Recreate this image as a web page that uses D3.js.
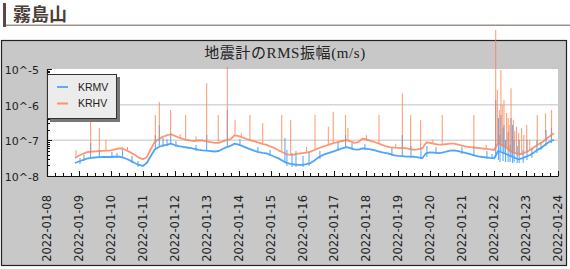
<!DOCTYPE html>
<html lang="ja">
<head>
  <meta charset="UTF-8" />
  <title>霧島山 地震計のRMS振幅</title>
  <script src="https://d3js.org/d3.v7.min.js"></script>
  <style>
    body { margin: 0; padding: 0; background: #fff; }
    svg { display: block; }
    .tick-label { font-family: "DejaVu Sans", sans-serif; fill: #222; }
  </style>
</head>
<body>
<div id="chart"></div>
<script>
  // ---- data ----
  const stationTitle = "霧島山";
  const chartTitle = "地震計のRMS振幅(m/s)";
  const seriesNames = ["KRMV", "KRHV"];
  const dayLabels = ["2022-01-08","2022-01-09","2022-01-10","2022-01-11","2022-01-12","2022-01-13",
    "2022-01-14","2022-01-15","2022-01-16","2022-01-17","2022-01-18","2022-01-19","2022-01-20",
    "2022-01-21","2022-01-22","2022-01-23","2022-01-24"];
  const yTickLabels = ["10^-8", "10^-7", "10^-6", "10^-5"];
  const yTickValues = [1e-8, 1e-7, 1e-6, 1e-5];

  // base level, one value every 3 hours from 2022-01-08 21:00
  const baseStartHour = 21, baseStepHours = 3;
  const krmvBase = [
    2.31e-8, 2.55e-8, 2.81e-8, 3.08e-8, 3.22e-8, 3.30e-8, 3.39e-8, 3.41e-8, 3.41e-8, 3.41e-8,
    3.46e-8, 3.50e-8, 3.30e-8, 3.00e-8, 2.65e-8, 2.31e-8, 2.04e-8, 1.91e-8, 2.31e-8, 3.64e-8,
    5.54e-8, 6.50e-8, 7.17e-8, 7.50e-8, 8.10e-8, 7.40e-8, 6.90e-8, 6.53e-8, 6.30e-8, 6.02e-8,
    5.72e-8, 5.43e-8, 5.25e-8, 5.12e-8, 4.99e-8, 4.86e-8, 5.02e-8, 5.72e-8, 6.46e-8, 7.03e-8,
    8.10e-8, 7.61e-8, 6.85e-8, 6.15e-8, 5.57e-8, 5.06e-8, 4.65e-8, 4.44e-8, 4.32e-8, 3.88e-8,
    3.46e-8, 3.12e-8, 2.68e-8, 2.34e-8, 2.20e-8, 2.10e-8, 2.04e-8, 2.05e-8, 2.14e-8, 2.30e-8,
    2.72e-8, 3.33e-8, 3.83e-8, 4.24e-8, 4.62e-8, 4.99e-8, 5.47e-8, 5.99e-8, 6.46e-8, 6.06e-8,
    5.61e-8, 5.47e-8, 5.94e-8, 5.80e-8, 5.57e-8, 5.32e-8, 4.92e-8, 4.59e-8, 4.35e-8, 4.14e-8,
    3.81e-8, 3.69e-8, 3.60e-8, 3.48e-8, 3.48e-8, 3.46e-8, 3.34e-8, 3.15e-8, 4.41e-8, 4.62e-8,
    4.50e-8, 4.38e-8, 4.53e-8, 4.83e-8, 5.13e-8, 5.25e-8, 4.99e-8, 4.65e-8, 4.35e-8, 4.09e-8,
    3.81e-8, 3.55e-8, 3.41e-8, 3.33e-8, 3.22e-8, 3.14e-8, 5.02e-8, 4.56e-8, 4.14e-8, 3.64e-8,
    3.30e-8, 2.94e-8, 3.10e-8, 3.50e-8, 3.88e-8, 4.59e-8, 5.54e-8, 6.34e-8, 7.89e-8, 9.28e-8,
    1.04e-7
  ];
  const krhvBase = [
    3.20e-8, 3.69e-8, 4.19e-8, 4.65e-8, 4.78e-8, 4.92e-8, 4.99e-8, 5.05e-8, 5.12e-8, 5.22e-8,
    5.54e-8, 5.91e-8, 5.80e-8, 5.18e-8, 4.53e-8, 3.88e-8, 3.28e-8, 2.96e-8, 3.37e-8, 5.72e-8,
    8.98e-8, 1.07e-7, 1.26e-7, 1.37e-7, 1.48e-7, 1.34e-7, 1.20e-7, 1.10e-7, 1.03e-7, 9.88e-8,
    9.58e-8, 1.00e-7, 9.88e-8, 9.40e-8, 8.86e-8, 8.53e-8, 8.53e-8, 9.40e-8, 1.01e-7, 1.09e-7,
    1.38e-7, 1.32e-7, 1.20e-7, 1.09e-7, 1.00e-7, 9.33e-8, 8.65e-8, 8.00e-8, 7.45e-8, 6.72e-8,
    6.02e-8, 5.25e-8, 4.65e-8, 4.06e-8, 3.93e-8, 4.01e-8, 4.22e-8, 4.38e-8, 4.53e-8, 4.83e-8,
    5.36e-8, 5.99e-8, 6.59e-8, 7.17e-8, 7.84e-8, 8.42e-8, 9.04e-8, 9.58e-8, 1.01e-7, 9.33e-8,
    8.53e-8, 8.86e-8, 1.12e-7, 1.06e-7, 9.70e-8, 8.98e-8, 8.15e-8, 7.45e-8, 6.72e-8, 6.37e-8,
    6.21e-8, 6.13e-8, 6.06e-8, 5.99e-8, 5.65e-8, 5.43e-8, 5.65e-8, 5.94e-8, 8.70e-8, 8.53e-8,
    8.00e-8, 7.61e-8, 7.56e-8, 7.84e-8, 8.10e-8, 8.10e-8, 7.61e-8, 7.08e-8, 6.68e-8, 6.46e-8,
    6.26e-8, 6.10e-8, 5.91e-8, 5.76e-8, 5.57e-8, 5.36e-8, 8.42e-8, 7.29e-8, 6.34e-8, 5.02e-8,
    4.53e-8, 4.09e-8, 4.14e-8, 4.71e-8, 5.36e-8, 6.42e-8, 7.61e-8, 8.81e-8, 1.09e-7, 1.32e-7,
    1.57e-7
  ];

  // short bursts: [hour since 01-08 00:00, low, high]
  const krmvSpikes = [
    [24.8, 2.17e-8, 3.20e-8], [27.8, 2.63e-8, 3.88e-8], [32.8, 3.20e-8, 8.42e-8], [39.3, 3.41e-8, 5.36e-8],
    [48.8, 3.20e-8, 4.71e-8], [52.6, 3.20e-8, 4.41e-8], [56.8, 3.41e-8, 5.36e-8], [63.9, 2.31e-8, 3.64e-8],
    [68.4, 1.79e-8, 2.63e-8], [81.4, 5.36e-8, 1.41e-7], [84.4, 6.50e-8, 2.69e-7], [87.2, 6.50e-8, 1.16e-7],
    [90.2, 6.94e-8, 1.09e-7], [93.0, 7.89e-8, 1.61e-7], [96.9, 6.50e-8, 9.58e-8], [112, 5.02e-8, 7.40e-8],
    [120, 5.20e-8, 1.41e-7], [135.5, 6.50e-8, 7.09e-7], [145, 6.94e-8, 1.09e-7], [158.5, 4.41e-8, 6.50e-8],
    [167.6, 3.64e-8, 5.36e-8], [178.8, 2.47e-8, 1.16e-7], [180.3, 1.91e-8, 5.36e-8], [184.1, 1.79e-8, 4.41e-8],
    [187.1, 1.79e-8, 5.02e-8], [192.4, 1.79e-8, 3.64e-8], [196.9, 1.91e-8, 4.71e-8], [205.1, 3.00e-8, 5.02e-8],
    [218.7, 5.02e-8, 8.98e-8], [224.4, 6.50e-8, 1.41e-7], [229.2, 5.36e-8, 8.42e-8], [238.9, 5.36e-8, 7.89e-8],
    [259.2, 3.64e-8, 6.10e-8], [267, 3.64e-8, 1.41e-7], [273.5, 3.20e-8, 6.94e-8], [281, 3.00e-8, 6.50e-8],
    [285.5, 3.41e-8, 6.94e-8], [292.3, 4.14e-8, 6.50e-8], [311.8, 4.14e-8, 6.50e-8], [320.8, 3.64e-8, 6.94e-8],
    [330.6, 3.00e-8, 5.02e-8], [334.4, 3.00e-8, 4.14e-8], [337.2, 3.20e-8, 1.35e-6], [339.2, 2.81e-8, 4.23e-7],
    [340.4, 2.47e-8, 1.41e-7], [341.1, 4.71e-8, 5.13e-7], [342.7, 2.63e-8, 2.22e-7], [343.4, 4.14e-8, 2.69e-7],
    [344.6, 2.47e-8, 1.02e-7], [346.5, 2.47e-8, 1.71e-7], [348, 2.47e-8, 7.40e-8], [348.7, 3.64e-8, 4.23e-7],
    [349.9, 2.31e-8, 2.69e-7], [351, 2.47e-8, 1.02e-7], [353.3, 2.31e-8, 6.94e-8], [354.8, 2.31e-8, 1.02e-7],
    [357.8, 2.31e-8, 5.36e-8], [360.7, 2.81e-8, 1.02e-7], [364.4, 3.20e-8, 6.10e-8], [368.2, 4.41e-8, 1.02e-7],
    [371.2, 5.36e-8, 8.98e-8], [375, 6.94e-8, 1.95e-7], [379, 8.42e-8, 2.22e-7]
  ];
  const krhvSpikes = [
    [21.8, 3.41e-8, 5.36e-8], [32.8, 4.78e-8, 5.84e-7], [39.3, 5.02e-8, 2.22e-7], [44.3, 5.12e-8, 1.02e-7],
    [56.6, 5.72e-8, 6.60e-8], [60.5, 5.00e-8, 6.50e-8], [81.4, 8.98e-8, 5.13e-7], [84.4, 1.09e-7, 1.19e-6],
    [92.9, 1.48e-7, 7.09e-7], [100, 1.10e-7, 1.50e-7], [104.2, 1.04e-7, 5.13e-7], [112, 9.50e-8, 1.30e-7],
    [120.0, 9.40e-8, 3.97e-6], [128.7, 8.53e-8, 5.13e-7], [135.5, 1.02e-7, 1.16e-5], [141.3, 1.37e-7, 3.72e-7],
    [146, 1.20e-7, 1.60e-7], [152.5, 1.02e-7, 5.13e-7], [162.1, 8.00e-8, 3.06e-7], [176.4, 4.71e-8, 5.13e-7],
    [183.1, 3.93e-8, 3.72e-7], [195, 4.50e-8, 6.50e-8], [201.4, 5.36e-8, 5.13e-7], [211.4, 7.40e-8, 2.41e-7],
    [215.1, 8.42e-8, 6.35e-7], [224.4, 1.02e-7, 5.13e-7], [226.2, 9.88e-8, 2.22e-7], [240, 1.00e-7, 1.40e-7],
    [249.5, 8.15e-8, 5.13e-7], [262, 6.00e-8, 8.00e-8], [267.0, 6.10e-8, 2.08e-6], [273.3, 5.72e-8, 5.13e-7],
    [280.8, 5.72e-8, 3.72e-7], [290, 8.00e-8, 1.05e-7], [297.0, 7.56e-8, 5.13e-7], [320.8, 6.26e-8, 5.13e-7],
    [330, 5.70e-8, 7.50e-8], [337.2, 5.36e-8, 1.24e-4], [338.4, 8.42e-8, 2.58e-6], [339.9, 7.89e-8, 7.09e-7],
    [341.1, 7.89e-8, 9.36e-6], [342.1, 7.40e-8, 9.80e-7], [343.4, 6.94e-8, 1.35e-6], [345.4, 6.34e-8, 5.84e-7],
    [346.6, 5.72e-8, 4.23e-7], [347.3, 5.36e-8, 2.69e-7], [348.7, 5.02e-8, 2.88e-6], [350.4, 4.71e-8, 3.72e-7],
    [351.5, 4.41e-8, 1.83e-7], [352.9, 4.41e-8, 2.41e-7], [354.5, 4.14e-8, 1.61e-7], [356.7, 4.14e-8, 2.22e-7],
    [358.3, 4.41e-8, 1.41e-7], [360.5, 4.71e-8, 2.69e-7], [362.8, 5.36e-8, 1.02e-7], [368.4, 7.40e-8, 5.13e-7],
    [374.7, 1.09e-7, 5.70e-7], [379.2, 1.41e-7, 7.09e-7]
  ];

  const colors = ["#3d9bf5", "#ff7d4d"];

  // ---- layout ----
  const width = 570, height = 269;
  const plot = { left: 47, right: 558, top: 69, bottom: 176 };
  const t0 = Date.UTC(2022, 0, 8);
  const hourToDate = h => new Date(t0 + h * 3600e3);

  const svg = d3.select("#chart").append("svg")
    .attr("width", width).attr("height", height);

  // header
  svg.append("rect").attr("x", 3).attr("y", 3).attr("width", 3).attr("height", 24).attr("fill", "#5b4a43");
  svg.append("rect").attr("x", 6).attr("y", 24.5).attr("width", 564).attr("height", 1.5).attr("fill", "#9b928b");
  svg.append("text").attr("x", 13).attr("y", 21)
    .attr("font-family", "'Noto Sans CJK JP', sans-serif").attr("font-weight", "bold")
    .attr("font-size", 18).attr("fill", "#4a3d37").text(stationTitle);

  // chart frame
  svg.append("rect").attr("x", 1.5).attr("y", 40.5).attr("width", 565).attr("height", 225)
    .attr("fill", "#c8c8c8").attr("stroke", "#222").attr("stroke-width", 1.2);

  svg.append("text").attr("x", 285).attr("y", 58).attr("text-anchor", "middle")
    .attr("font-family", "'Liberation Serif', 'Noto Sans CJK JP', serif")
    .attr("font-size", 15).attr("letter-spacing", 0.6).attr("fill", "#222").text(chartTitle);

  const x = d3.scaleUtc().domain([t0, Date.UTC(2022, 0, 24)]).range([plot.left, plot.right]);
  const y = d3.scaleLog().domain([1e-8, 1e-5]).range([plot.bottom, plot.top]);

  svg.append("rect").attr("x", plot.left).attr("y", plot.top)
    .attr("width", plot.right - plot.left).attr("height", plot.bottom - plot.top).attr("fill", "#fff");

  // grid
  svg.append("g").selectAll("line").data([1e-7, 1e-6]).join("line")
    .attr("x1", plot.left).attr("x2", plot.right)
    .attr("y1", d => y(d)).attr("y2", d => y(d))
    .attr("stroke", "#d6d6d6").attr("stroke-width", 1.5);

  // series
  function baseLine(vals) {
    return vals.map((v, i) => [hourToDate(baseStartHour + i * baseStepHours), v]);
  }
  const line = d3.line().x(d => x(d[0])).y(d => y(d[1]));
  const series = [
    { base: krmvBase, spikes: krmvSpikes, color: colors[0], op: 0.9 },
    { base: krhvBase, spikes: krhvSpikes, color: colors[1], op: 0.8 }
  ];
  series.forEach(s => {
    const g = svg.append("g").attr("opacity", s.op);
    g.append("path").datum(baseLine(s.base)).attr("d", line)
      .attr("fill", "none").attr("stroke", s.color).attr("stroke-width", 1.8)
      .attr("stroke-linejoin", "round");
    g.selectAll("line").data(s.spikes).join("line")
      .attr("x1", d => x(hourToDate(d[0]))).attr("x2", d => x(hourToDate(d[0])))
      .attr("y1", d => y(d[1])).attr("y2", d => y(d[2]))
      .attr("stroke", s.color).attr("stroke-width", 1);
  });

  // axes lines
  const axisG = svg.append("g").attr("stroke", "#111");
  axisG.append("line").attr("x1", plot.left + 0.5).attr("x2", plot.left + 0.5)
    .attr("y1", plot.top).attr("y2", plot.bottom + 0.5).attr("stroke-width", 1.2);
  axisG.append("line").attr("x1", plot.left).attr("x2", plot.right + 0.5)
    .attr("y1", plot.bottom + 0.5).attr("y2", plot.bottom + 0.5).attr("stroke-width", 1.2);

  // x ticks (inside)
  const minorX = d3.utcHour.every(6).range(x.domain()[0], new Date(+x.domain()[1] + 1));
  axisG.selectAll("line.xt").data(minorX).join("line").attr("class", "xt")
    .attr("x1", d => Math.round(x(d)) + 0.5).attr("x2", d => Math.round(x(d)) + 0.5)
    .attr("y1", plot.bottom)
    .attr("y2", d => plot.bottom - (d.getUTCHours() === 0 ? 5 : 3));

  // y ticks (inside)
  const minorY = [];
  for (let e = -8; e < -5; e++) for (let m = 2; m < 10; m++) minorY.push(m * Math.pow(10, e));
  axisG.selectAll("line.ymin").data(minorY).join("line").attr("class", "ymin")
    .attr("x1", plot.left).attr("x2", plot.left + 3)
    .attr("y1", d => Math.round(y(d)) + 0.5).attr("y2", d => Math.round(y(d)) + 0.5);
  axisG.selectAll("line.ymaj").data(yTickValues).join("line").attr("class", "ymaj")
    .attr("x1", plot.left).attr("x2", plot.left + 5)
    .attr("y1", d => Math.round(y(d)) + 0.5).attr("y2", d => Math.round(y(d)) + 0.5);

  // tick labels
  svg.append("g").selectAll("text").data(yTickValues).join("text")
    .attr("class", "tick-label").attr("font-size", 11)
    .attr("x", 39).attr("y", d => y(d) + 1).attr("dy", "0.35em").attr("text-anchor", "end")
    .text((d, i) => yTickLabels[i]);

  svg.append("g").selectAll("text").data(dayLabels).join("text")
    .attr("class", "tick-label").attr("font-size", 11.5)
    .attr("text-anchor", "end")
    .attr("transform", (d, i) => `translate(${x(hourToDate(i * 24)) + 4},195) rotate(-90)`)
    .text(d => d);

  // legend
  const lg = svg.append("g");
  lg.append("rect").attr("x", 50).attr("y", 77).attr("width", 70).attr("height", 45).attr("fill", "#777");
  lg.append("rect").attr("x", 47.5).attr("y", 74.5).attr("width", 69).attr("height", 44)
    .attr("fill", "#ececec").attr("stroke", "#333").attr("stroke-width", 1);
  seriesNames.forEach((name, i) => {
    const ly = 87 + i * 16.5;
    lg.append("line").attr("x1", 57).attr("x2", 68).attr("y1", ly).attr("y2", ly)
      .attr("stroke", colors[i]).attr("stroke-width", 2).attr("opacity", 0.8);
    lg.append("text").attr("x", 78).attr("y", ly).attr("dy", "0.36em")
      .attr("font-family", "'Liberation Sans', sans-serif").attr("font-size", 10.5)
      .attr("fill", "#222").text(name);
  });
</script>
</body>
</html>
